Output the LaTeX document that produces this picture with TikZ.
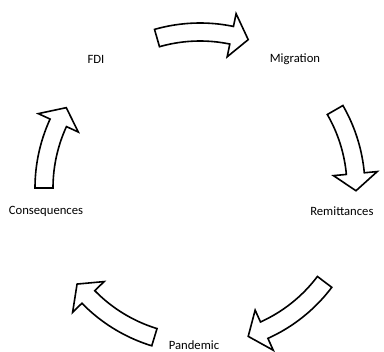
\documentclass[tikz,border=0pt]{standalone}
\usepackage{fontspec}
\setmainfont{Carlito}
\begin{document}
\begin{tikzpicture}[
        x=0.75pt, y=-0.75pt,
        lbl/.style={font=\fontsize{9.5}{11}\selectfont, inner sep=0pt},
        blockarrow/.style={draw=black, fill=white, line width=1.2pt, line join=miter}
    ]
    \useasboundingbox (0,0) rectangle (384,351);

    \node[lbl] (fdi) at (96,59) {FDI};
    \node[lbl] (mig) at (295,59) {Migration};
    \node[lbl, anchor=west] (rem) at (310,211) {Remittances};
    \node[lbl] (pan) at (194,345) {Pandemic};
    \node[lbl] (con) at (46,211) {Consequences};

    % curved block arrows around the cycle
    \begin{scope}[shift={(200,188)}]
    \foreach \a/\b in {-106/-72, -30/1, 37/72, 107/142, 180/211} {
        \draw[blockarrow] plot[domain=\a:\b-6.3, samples=30] (\x:165)
            -- (\b-6.3:178) -- (\b:156) -- (\b-6.3:134) -- (\b-6.3:147)
            -- plot[domain=\b-6.3:\a, samples=30] (\x:147) -- cycle;
    }
    \end{scope}

\end{tikzpicture}
\end{document}
